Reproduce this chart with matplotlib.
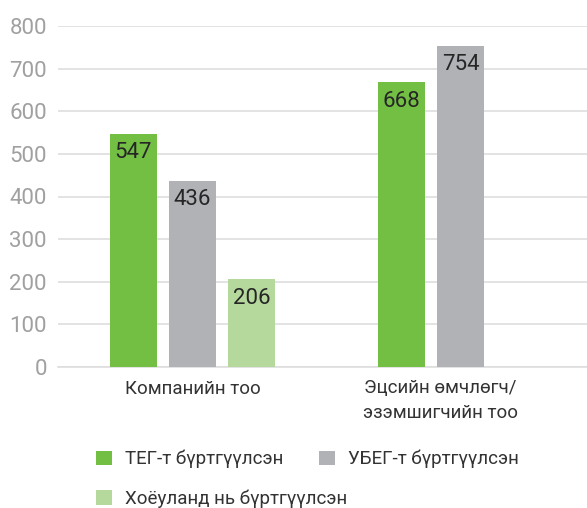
import matplotlib.pyplot as plt
import numpy as np

plt.rcParams['font.family'] = ['Roboto', 'Open Sans', 'DejaVu Sans']

# Data
categories = ['Компанийн тоо', 'Эцсийн өмчлөгч/\nэзэмшигчийн тоо']
series_names = ['ТЕГ-т бүртгүүлсэн', 'УБЕГ-т бүртгүүлсэн', 'Хоёуланд нь бүртгүүлсэн']
teg_values = [547, 668]
ubeg_values = [436, 754]
both_values = [206, None]
colors = ['#72bf44', '#b1b2b6', '#b5d99c']
y_ticks = [0, 100, 200, 300, 400, 500, 600, 700, 800]

fig = plt.figure(figsize=(5.87, 5.08), dpi=100)
ax = fig.add_axes([58 / 587, 1 - 367 / 508, 1 - 58 / 587, (367 - 26) / 508])

pitch = 59 / 268
width = 47 / 268
x = np.arange(len(categories))

handles = []
for i, (vals, col, name) in enumerate(zip([teg_values, ubeg_values, both_values], colors, series_names)):
    xs = [xi + (i - 1) * pitch for xi, v in zip(x, vals) if v is not None]
    vs = [v for v in vals if v is not None]
    bars = ax.bar(xs, vs, width=width, color=col, label=name, zorder=3)
    handles.append(bars)
    for b, v in zip(bars, vs):
        ax.annotate(str(v), (b.get_x() + b.get_width() / 2, v), xytext=(0, -6),
                    textcoords='offset points', ha='center', va='top',
                    fontsize=16, color='#262626', zorder=4)

ax.set_ylim(0, 800)
ax.set_xlim((58 - 192.5) / 268, (587 - 192.5) / 268)
ax.set_yticks(y_ticks)
ax.tick_params(axis='y', length=0, pad=8, labelsize=16, labelcolor='#a0a0a0')
ax.yaxis.grid(True, color='#dedede', linewidth=1.2, zorder=0)
ax.set_axisbelow(True)

ax.set_xticks([0, 0.925])
ax.set_xticklabels(categories, fontsize=13.5, color='#333333', linespacing=1.45)
ax.tick_params(axis='x', length=0, pad=9)

for s in ['top', 'right', 'left']:
    ax.spines[s].set_visible(False)
ax.spines['bottom'].set_color('#dedede')
ax.spines['bottom'].set_linewidth(1.2)

# legend: row-wise order -> reorder for column filling
leg = fig.legend([handles[0], handles[2], handles[1]],
                 [series_names[0], series_names[2], series_names[1]],
                 loc='upper left', bbox_to_anchor=(96 / 587, 1 - 450 / 508),
                 ncol=2, frameon=False, fontsize=13.5, borderpad=0, borderaxespad=0,
                 handlelength=0.85, handleheight=0.85, handletextpad=0.7,
                 labelspacing=1.1, columnspacing=-1.5, labelcolor='#333333')

fig.savefig('out.png', dpi=100)
